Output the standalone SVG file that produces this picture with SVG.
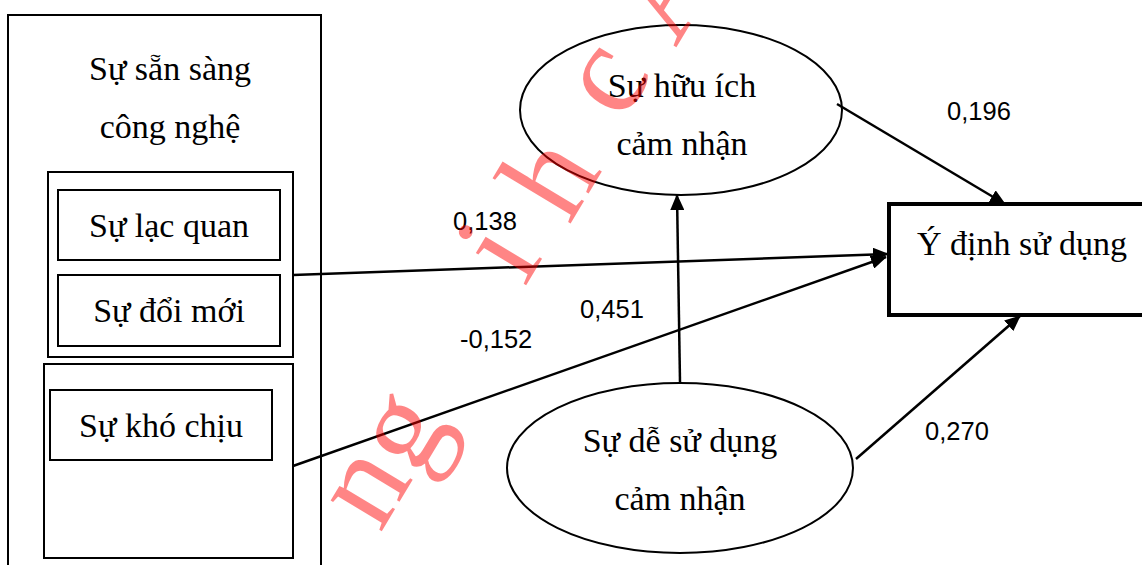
<svg xmlns="http://www.w3.org/2000/svg" width="1142" height="565" viewBox="0 0 1142 565">
  <style>
    .box { fill: none; stroke: #000; stroke-width: 2; }
    .ell { fill: none; stroke: #000; stroke-width: 2; }
    .lbl { font-family: "Liberation Serif", "Times New Roman", serif; font-size: 34px; fill: #000; text-anchor: middle; }
    .coef { font-family: "Liberation Sans", Arial, sans-serif; font-size: 25.5px; fill: #000; }
    .edge { fill: none; stroke: #000; stroke-width: 2.5; marker-end: url(#arrow); }
    .wm { font-family: "Liberation Serif", "Times New Roman", serif; font-size: 130px; fill: #ff0000; fill-opacity: 0.48; text-anchor: middle; }
  </style>
  <defs>
    <marker id="arrow" markerUnits="userSpaceOnUse" markerWidth="16" markerHeight="14" refX="15" refY="7" orient="auto">
      <path d="M0,0 L16,7 L0,14 z" fill="#000"/>
    </marker>
  </defs>
  <rect width="1142" height="565" fill="#fff"/>

  <!-- technology readiness construct with its dimensions -->
  <g id="tech-readiness">
    <rect class="box" x="8" y="15" width="313" height="560"/>
    <text class="lbl" x="170" y="80">Sự sẵn sàng</text>
    <text class="lbl" x="170" y="138">công nghệ</text>
  </g>
  <g id="drivers">
    <rect class="box" x="48" y="172" width="245" height="185"/>
  </g>
  <g id="optimism">
    <rect class="box" x="58" y="190" width="222" height="70"/>
    <text class="lbl" x="169" y="237">Sự lạc quan</text>
  </g>
  <g id="innovativeness">
    <rect class="box" x="58" y="275" width="222" height="71"/>
    <text class="lbl" x="169" y="322">Sự đổi mới</text>
  </g>
  <g id="inhibitors">
    <rect class="box" x="44" y="364" width="249" height="194"/>
  </g>
  <g id="discomfort">
    <rect class="box" x="50" y="390" width="222" height="70"/>
    <text class="lbl" x="161" y="437">Sự khó chịu</text>
  </g>

  <!-- perceived usefulness -->
  <g id="usefulness">
    <ellipse class="ell" cx="681" cy="110" rx="161" ry="85"/>
    <text class="lbl" x="682" y="97">Sự hữu ích</text>
    <text class="lbl" x="682" y="155">cảm nhận</text>
  </g>

  <!-- perceived ease of use -->
  <g id="ease-of-use">
    <ellipse class="ell" cx="680" cy="468" rx="173" ry="85"/>
    <text class="lbl" x="680" y="452">Sự dễ sử dụng</text>
    <text class="lbl" x="680" y="510">cảm nhận</text>
  </g>

  <!-- intention to use -->
  <g id="intention">
    <rect x="889" y="204" width="260" height="111" fill="none" stroke="#000" stroke-width="4"/>
    <text class="lbl" x="1022" y="255">Ý định sử dụng</text>
  </g>

  <!-- paths with coefficients -->
  <g id="connectors">
    <line class="edge" x1="837" y1="104" x2="1005" y2="204"/>
    <line class="edge" x1="293" y1="275" x2="888" y2="254"/>
    <line class="edge" x1="293" y1="466" x2="886" y2="257"/>
    <line class="edge" x1="680" y1="382" x2="677" y2="195"/>
    <line class="edge" x1="856" y1="459" x2="1020" y2="316"/>
    <text class="coef" x="947" y="120">0,196</text>
    <text class="coef" x="453" y="230">0,138</text>
    <text class="coef" x="580" y="318">0,451</text>
    <text class="coef" x="460" y="348">-0,152</text>
    <text class="coef" x="925" y="440">0,270</text>
  </g>

  <!-- red background stamp -->
  <g id="stamp">
    <text class="wm" transform="translate(397,506) rotate(-59)">n</text>
    <text class="wm" transform="translate(434,450) rotate(-59)">g</text>
    <text class="wm" transform="translate(534,272) rotate(-59)">i</text>
    <text class="wm" transform="translate(586,198) rotate(-59)">h</text>
    <text class="wm" transform="translate(638,98) rotate(-59)">c</text>
    <text class="wm" transform="translate(700,8) rotate(-59)">A</text>
  </g>
</svg>
